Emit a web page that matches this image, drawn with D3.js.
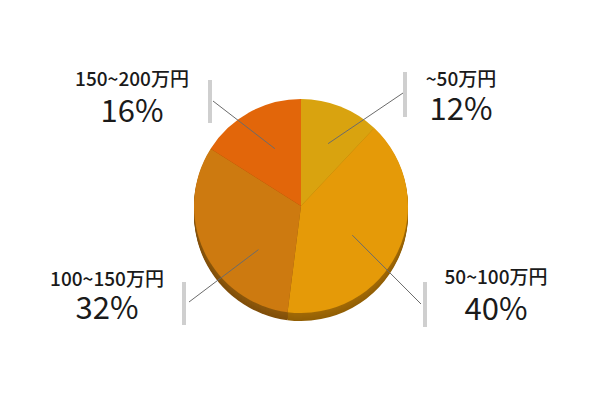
<!DOCTYPE html>
<html><head><meta charset="utf-8">
<script src="https://cdn.jsdelivr.net/npm/d3@7"></script>
<style>body{margin:0;background:#fff}svg{display:block}</style>
</head><body>
<svg id="c" width="600" height="400"></svg>
<script>
const categories = ["~50万円", "50~100万円", "100~150万円", "150~200万円"];
const values = [12, 40, 32, 16];
const percentLabels = ["12%", "40%", "32%", "16%"];
const colors = ["#D9A30F", "#E59A08", "#CD7A10", "#E2660A"];
const sideColors = ["#A57A0A", "#A26A06", "#8E580C", "#A04A08"];

// layout (annotation placement)
const cx = 301, cy = 206, R = 107, depth = 8;
const layout = [
  {ang: 23.5, r: 68, bar: [405, 72, 117], tx: 461, ty1: 86, ty2: 120, end: [403, 93]},
  {ang: 119.6, r: 59, bar: [425, 282, 327], tx: 496, ty1: 284, ty2: 320, end: [421, 304]},
  {ang: 224.3, r: 61, bar: [184, 282, 325], tx: 107, ty1: 286, ty2: 319, end: [189, 302]},
  {ang: 335.5, r: 63, bar: [210, 80, 123], tx: 132, ty1: 86, ty2: 122, end: [213, 101]}
];

const svg = d3.select("#c");
const pie = d3.pie().sort(null).value(d => d)(values);
const arc = d3.arc().innerRadius(0).outerRadius(R);

const g = svg.append("g").attr("transform", `translate(${cx},${cy})`);
// side (thickness)
for (let k = depth; k >= 1; k--) {
  g.append("g").attr("transform", `translate(0,${k})`)
    .selectAll("path").data(pie).join("path")
    .attr("d", arc)
    .attr("fill", (d, i) => d3.interpolateRgb(sideColors[i], d3.color(sideColors[i]).darker(0.3))(k / depth));
}
g.selectAll("path.top").data(pie).join("path").attr("class", "top")
  .attr("d", arc).attr("fill", (d, i) => colors[i]);

const font = "'Noto Sans CJK JP','Noto Sans',sans-serif";
layout.forEach((L, i) => {
  const a = L.ang * Math.PI / 180;
  const x0 = cx + L.r * Math.sin(a), y0 = cy - L.r * Math.cos(a);
  svg.append("line").attr("x1", L.bar[0]).attr("x2", L.bar[0])
    .attr("y1", L.bar[1]).attr("y2", L.bar[2])
    .attr("stroke", "#cfcfcf").attr("stroke-width", 4);
  svg.append("line").attr("x1", x0).attr("y1", y0).attr("x2", L.end[0]).attr("y2", L.end[1])
    .attr("stroke", "#6b6b6b").attr("stroke-width", 1);
  svg.append("text").attr("x", L.tx).attr("y", L.ty1).attr("text-anchor", "middle")
    .attr("font-family", font).attr("font-size", 19).attr("font-weight", 500).attr("fill", "#1a1a1a")
    .text(categories[i]);
  svg.append("text").attr("x", L.tx).attr("y", L.ty2).attr("text-anchor", "middle")
    .attr("font-family", font).attr("font-size", 31).attr("font-weight", 400).attr("fill", "#1a1a1a")
    .text(percentLabels[i]);
});
</script>
</body></html>
